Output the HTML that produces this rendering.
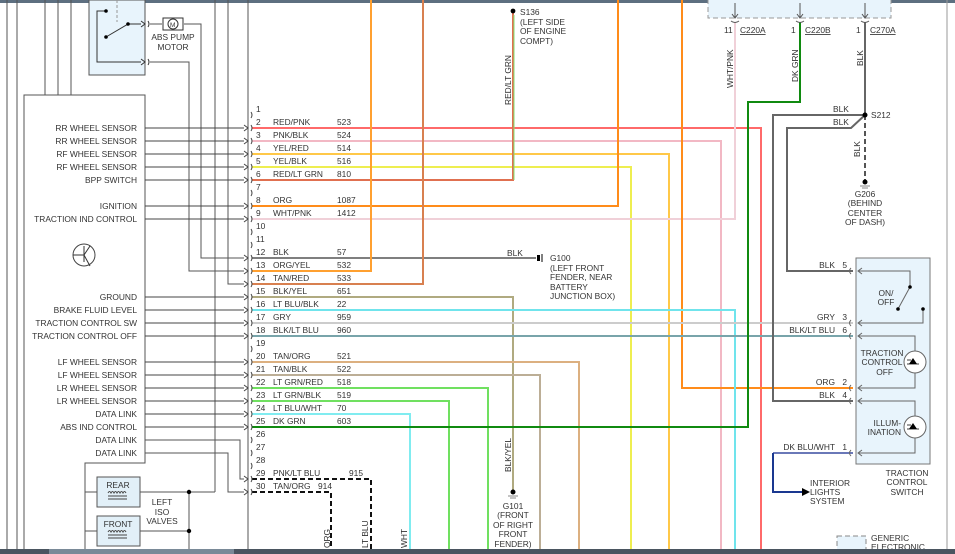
<!DOCTYPE html>
<html><head><meta charset="utf-8"><style>
html,body{margin:0;padding:0;background:#fff;}
svg{display:block;font-family:"Liberation Sans",sans-serif;font-size:8.4px;fill:#333;}
</style></head><body>
<svg width="955" height="554" viewBox="0 0 955 554" xmlns="http://www.w3.org/2000/svg">
<rect x="0" y="0" width="955" height="554" fill="#fff"/>
<rect x="0" y="0" width="955" height="3" fill="#5d6f80"/>
<line x1="947" y1="0" x2="947" y2="549" stroke="#999" stroke-width="1"/>
<g fill="none" stroke="#555" stroke-width="1">
<line x1="7" y1="0" x2="7" y2="549"/>
<line x1="17" y1="0" x2="17" y2="549"/>
<line x1="45" y1="0" x2="45" y2="95"/>
<line x1="58" y1="0" x2="58" y2="95"/>
<line x1="71" y1="0" x2="71" y2="95"/>
<line x1="248" y1="0" x2="248" y2="549"/>
<line x1="215" y1="0" x2="215" y2="492"/>
<polyline points="228,0 228,284 244,284"/>
<polyline points="150,24 162,24"/>
<polyline points="184,24 201,24 201,258 244,258"/>
<polyline points="150,62 189,62 189,271 244,271"/>
<polyline points="145,440 240,440 240,479 244,479"/>
<polyline points="145,453 228,453 228,492 244,492"/>
<polyline points="85,492 215,492"/>
<polyline points="85,531 189,531"/>
<line x1="189" y1="492" x2="189" y2="549"/>
</g>
<circle cx="189" cy="492" r="2.2" fill="#000"/>
<circle cx="189" cy="531" r="2.2" fill="#000"/>
<rect x="89" y="0" width="56" height="75" fill="#e8f4fc" stroke="#555"/>
<g stroke="#333" fill="none"><polyline points="141,62 97,62 97,11 106,11"/><line x1="117" y1="0" x2="117" y2="22" stroke-dasharray="3,2" stroke="#999"/><line x1="106" y1="37" x2="128" y2="24"/><line x1="128" y1="24" x2="141" y2="24"/>
<path d="M141,21 l4,3 -4,3 M141,59 l4,3 -4,3"/>
<path d="M148,21 q2,3 0,6 M148,59 q2,3 0,6"/></g>
<circle cx="106" cy="11" r="1.8" fill="#000"/><circle cx="106" cy="37" r="1.8" fill="#000"/><circle cx="128" cy="24" r="1.8" fill="#000"/>
<rect x="163" y="18" width="20" height="12" fill="#fff" stroke="#333"/>
<circle cx="173" cy="24" r="5" fill="#fff" stroke="#333"/>
<text x="170" y="27" font-size="6.5">M</text>
<text x="173" y="40" text-anchor="middle">ABS PUMP</text>
<text x="173" y="50" text-anchor="middle">MOTOR</text>
<path d="M24,549 V95 H145 V463 H85 V549" fill="none" stroke="#555"/>
<circle cx="84" cy="255" r="11" fill="#fff" stroke="#444"/>
<g stroke="#333" fill="none"><line x1="73" y1="255" x2="84" y2="255"/><line x1="84" y1="255" x2="90" y2="246"/><line x1="84" y1="255" x2="90" y2="266"/><line x1="84" y1="246" x2="84" y2="262"/></g>
<g text-anchor="end">
<text x="137" y="131">RR WHEEL SENSOR</text>
<text x="137" y="144">RR WHEEL SENSOR</text>
<text x="137" y="157">RF WHEEL SENSOR</text>
<text x="137" y="170">RF WHEEL SENSOR</text>
<text x="137" y="183">BPP SWITCH</text>
<text x="137" y="209">IGNITION</text>
<text x="137" y="222">TRACTION IND CONTROL</text>
<text x="137" y="300">GROUND</text>
<text x="137" y="313">BRAKE FLUID LEVEL</text>
<text x="137" y="326">TRACTION CONTROL SW</text>
<text x="137" y="339">TRACTION CONTROL OFF</text>
<text x="137" y="365">LF WHEEL SENSOR</text>
<text x="137" y="378">LF WHEEL SENSOR</text>
<text x="137" y="391">LR WHEEL SENSOR</text>
<text x="137" y="404">LR WHEEL SENSOR</text>
<text x="137" y="417">DATA LINK</text>
<text x="137" y="430">ABS IND CONTROL</text>
<text x="137" y="443">DATA LINK</text>
<text x="137" y="456">DATA LINK</text>
</g>
<g stroke="#444" fill="none">
<path d="M145,128H244M145,141H244M145,154H244M145,167H244M145,180H244M145,206H244M145,219H244M145,297H244M145,310H244M145,323H244M145,336H244M145,362H244M145,375H244M145,388H244M145,401H244M145,414H244M145,427H244"/>
</g>
<rect x="97" y="477" width="43" height="30" fill="#e2f0f8" stroke="#555"/>
<rect x="97" y="516" width="43" height="30" fill="#e2f0f8" stroke="#555"/>
<text x="118" y="488" text-anchor="middle">REAR</text>
<text x="118" y="527" text-anchor="middle">FRONT</text>
<g stroke="#444" fill="none"><path d="M108,493 q1.5,-3 3,0 q1.5,-3 3,0 q1.5,-3 3,0 q1.5,-3 3,0 q1.5,-3 3,0 q1.5,-3 3,0 M108,496H127M108,499H127"/>
<path d="M108,532 q1.5,-3 3,0 q1.5,-3 3,0 q1.5,-3 3,0 q1.5,-3 3,0 q1.5,-3 3,0 q1.5,-3 3,0 M108,535H127M108,538H127"/></g>
<text x="162" y="505" text-anchor="middle">LEFT</text>
<text x="162" y="515" text-anchor="middle">ISO</text>
<text x="162" y="524" text-anchor="middle">VALVES</text>
<g fill="none" stroke-width="2">
<polyline points="252,128 761,128 761,549" stroke="#ff6a6a"/>
<polyline points="252,141 721,141 721,549" stroke="#f2b8c4"/>
<polyline points="252,154 669,154 669,549" stroke="#ffc848"/>
<polyline points="252,167 631,167 631,549" stroke="#eeee50"/>
<polyline points="252,180 513,180 513,11" stroke="#e07050"/>
<polyline points="514,180 514,15" stroke="#80e070" stroke-width="1"/>
<polyline points="252,206 618,206 618,0" stroke="#ff8c1a"/>
<polyline points="252,219 735,219 735,22" stroke="#f0d0d8"/>
<polyline points="682,0 682,388 853,388" stroke="#ff8c1a"/>
<polyline points="252,258 536,258" stroke="#555" stroke-width="1.5"/>
<polyline points="252,271 371,271 371,0" stroke="#ffa030"/>
<polyline points="252,284 423,284 423,0" stroke="#d88050"/>
<polyline points="252,297 513,297 513,490" stroke="#b0aa80"/>
<polyline points="252,310 735,310 735,549" stroke="#70e4ec"/>
<polyline points="252,323 853,323" stroke="#cccccc"/>
<polyline points="252,336 853,336" stroke="#78a4aa"/>
<polyline points="252,362 579,362 579,549" stroke="#dcb080"/>
<polyline points="252,375 540,375 540,549" stroke="#bcae96"/>
<polyline points="252,388 488,388 488,549" stroke="#70e060"/>
<polyline points="252,401 449,401 449,549" stroke="#70e060"/>
<polyline points="252,414 410,414 410,549" stroke="#80ecf0"/>
<polyline points="252,427 748,427 748,102 800,102 800,22" stroke="#108a10"/>
<polyline points="252,479 371,479 371,549" stroke="#111" stroke-dasharray="5,3"/>
<polyline points="252,492 331,492 331,549" stroke="#111" stroke-dasharray="5,3"/>
<polyline points="865,22 865,115" stroke="#666"/>
<polyline points="865,115 865,182" stroke="#555" stroke-dasharray="5,3"/>
<polyline points="865,115 773,115 773,401 853,401" stroke="#666"/>
<polyline points="865,115 851,128 787,128 787,271 853,271" stroke="#666"/>
<polyline points="853,453 773,453" stroke="#6a78b8"/>
<polyline points="773,453 773,492 802,492" stroke="#1a3890"/>
</g>
<path d="M802,488 L810,492 802,496Z" fill="#000"/>
<g fill="none" stroke="#444" stroke-width="1">
<path d="M244,125 l4,3 -4,3 M244,138 l4,3 -4,3 M244,151 l4,3 -4,3 M244,164 l4,3 -4,3 M244,177 l4,3 -4,3 M244,203 l4,3 -4,3 M244,216 l4,3 -4,3 M244,255 l4,3 -4,3 M244,268 l4,3 -4,3 M244,281 l4,3 -4,3 M244,294 l4,3 -4,3 M244,307 l4,3 -4,3 M244,320 l4,3 -4,3 M244,333 l4,3 -4,3 M244,359 l4,3 -4,3 M244,372 l4,3 -4,3 M244,385 l4,3 -4,3 M244,398 l4,3 -4,3 M244,411 l4,3 -4,3 M244,424 l4,3 -4,3 M244,476 l4,3 -4,3 M244,489 l4,3 -4,3"/>
<path d="M251,112q2,3 0,6M251,125q2,3 0,6M251,138q2,3 0,6M251,151q2,3 0,6M251,164q2,3 0,6M251,177q2,3 0,6M251,190q2,3 0,6M251,203q2,3 0,6M251,216q2,3 0,6M251,229q2,3 0,6M251,242q2,3 0,6M251,255q2,3 0,6M251,268q2,3 0,6M251,281q2,3 0,6M251,294q2,3 0,6M251,307q2,3 0,6M251,320q2,3 0,6M251,333q2,3 0,6M251,346q2,3 0,6M251,359q2,3 0,6M251,372q2,3 0,6M251,385q2,3 0,6M251,398q2,3 0,6M251,411q2,3 0,6M251,424q2,3 0,6M251,437q2,3 0,6M251,450q2,3 0,6M251,463q2,3 0,6M251,476q2,3 0,6M251,489q2,3 0,6"/>
</g>
<g>
<text x="256" y="112">1</text>
<text x="256" y="125">2</text><text x="273" y="125">RED/PNK</text><text x="337" y="125">523</text>
<text x="256" y="138">3</text><text x="273" y="138">PNK/BLK</text><text x="337" y="138">524</text>
<text x="256" y="151">4</text><text x="273" y="151">YEL/RED</text><text x="337" y="151">514</text>
<text x="256" y="164">5</text><text x="273" y="164">YEL/BLK</text><text x="337" y="164">516</text>
<text x="256" y="177">6</text><text x="273" y="177">RED/LT GRN</text><text x="337" y="177">810</text>
<text x="256" y="190">7</text>
<text x="256" y="203">8</text><text x="273" y="203">ORG</text><text x="337" y="203">1087</text>
<text x="256" y="216">9</text><text x="273" y="216">WHT/PNK</text><text x="337" y="216">1412</text>
<text x="256" y="229">10</text>
<text x="256" y="242">11</text>
<text x="256" y="255">12</text><text x="273" y="255">BLK</text><text x="337" y="255">57</text>
<text x="256" y="268">13</text><text x="273" y="268">ORG/YEL</text><text x="337" y="268">532</text>
<text x="256" y="281">14</text><text x="273" y="281">TAN/RED</text><text x="337" y="281">533</text>
<text x="256" y="294">15</text><text x="273" y="294">BLK/YEL</text><text x="337" y="294">651</text>
<text x="256" y="307">16</text><text x="273" y="307">LT BLU/BLK</text><text x="337" y="307">22</text>
<text x="256" y="320">17</text><text x="273" y="320">GRY</text><text x="337" y="320">959</text>
<text x="256" y="333">18</text><text x="273" y="333">BLK/LT BLU</text><text x="337" y="333">960</text>
<text x="256" y="346">19</text>
<text x="256" y="359">20</text><text x="273" y="359">TAN/ORG</text><text x="337" y="359">521</text>
<text x="256" y="372">21</text><text x="273" y="372">TAN/BLK</text><text x="337" y="372">522</text>
<text x="256" y="385">22</text><text x="273" y="385">LT GRN/RED</text><text x="337" y="385">518</text>
<text x="256" y="398">23</text><text x="273" y="398">LT GRN/BLK</text><text x="337" y="398">519</text>
<text x="256" y="411">24</text><text x="273" y="411">LT BLU/WHT</text><text x="337" y="411">70</text>
<text x="256" y="424">25</text><text x="273" y="424">DK GRN</text><text x="337" y="424">603</text>
<text x="256" y="437">26</text>
<text x="256" y="450">27</text>
<text x="256" y="463">28</text>
<text x="256" y="476">29</text><text x="273" y="476">PNK/LT BLU</text><text x="349" y="476">915</text>
<text x="256" y="489">30</text><text x="273" y="489">TAN/ORG</text><text x="318" y="489">914</text>
</g>
<circle cx="513" cy="11" r="2.4" fill="#000"/>
<text x="520" y="15">S136</text>
<text x="520" y="25">(LEFT SIDE</text>
<text x="520" y="34">OF ENGINE</text>
<text x="520" y="44">COMPT)</text>
<text transform="translate(511,80) rotate(-90)" text-anchor="middle">RED/LT GRN</text>
<text x="507" y="256">BLK</text>
<rect x="537" y="255" width="3" height="6" fill="#000"/><line x1="542" y1="254" x2="542" y2="262" stroke="#000"/>
<text x="550" y="261">G100</text>
<text x="550" y="271">(LEFT FRONT</text>
<text x="550" y="280">FENDER, NEAR</text>
<text x="550" y="290">BATTERY</text>
<text x="550" y="299">JUNCTION BOX)</text>
<text transform="translate(511,455) rotate(-90)" text-anchor="middle">BLK/YEL</text>
<circle cx="513" cy="492" r="2.5" fill="#000"/><path d="M508,496H518M510,498H516" stroke="#888"/>
<text x="513" y="509" text-anchor="middle">G101</text>
<text x="513" y="518" text-anchor="middle">(FRONT</text>
<text x="513" y="528" text-anchor="middle">OF RIGHT</text>
<text x="513" y="537" text-anchor="middle">FRONT</text>
<text x="513" y="547" text-anchor="middle">FENDER)</text>
<text transform="translate(330,548) rotate(-90)">ORG</text>
<text transform="translate(368,548) rotate(-90)">LT BLU</text>
<text transform="translate(407,548) rotate(-90)">WHT</text>
<rect x="708" y="-2" width="183" height="20" fill="#e8f4fc" stroke="#999" stroke-dasharray="5,3"/>
<g stroke="#555" fill="none"><path d="M735,3V18M732,14l3,4 3,-4M800,3V18M797,14l3,4 3,-4M865,3V18M862,14l3,4 3,-4"/>
<path d="M731,21q4,3 8,0M796,21q4,3 8,0M861,21q4,3 8,0"/></g>
<text x="724" y="33">11</text><text x="740" y="33" text-decoration="underline">C220A</text>
<text x="791" y="33">1</text><text x="805" y="33" text-decoration="underline">C220B</text>
<text x="856" y="33">1</text><text x="870" y="33" text-decoration="underline">C270A</text>
<text transform="translate(733,88) rotate(-90)">WHT/PNK</text>
<text transform="translate(798,82) rotate(-90)">DK GRN</text>
<text transform="translate(863,66) rotate(-90)">BLK</text>
<text transform="translate(860,157) rotate(-90)">BLK</text>
<text x="833" y="112">BLK</text>
<text x="833" y="125">BLK</text>
<circle cx="865" cy="115" r="2.5" fill="#000"/>
<text x="871" y="118">S212</text>
<circle cx="865" cy="182" r="2.5" fill="#000"/><path d="M860,186H870M862,188H868" stroke="#888"/>
<text x="865" y="197" text-anchor="middle">G206</text>
<text x="865" y="206" text-anchor="middle">(BEHIND</text>
<text x="865" y="216" text-anchor="middle">CENTER</text>
<text x="865" y="225" text-anchor="middle">OF DASH)</text>
<rect x="856" y="258" width="74" height="206" fill="#e8f4fc" stroke="#777"/>
<g stroke="#666" fill="none">
<polyline points="858,271 910,271 910,287"/>
<polyline points="858,323 923,323 923,309"/>
<line x1="910" y1="287" x2="898" y2="309"/>
<polyline points="858,336 915,336 915,388 858,388"/>
<polyline points="858,401 915,401 915,453 858,453"/>
<circle cx="915" cy="362" r="11" fill="#fff"/><circle cx="915" cy="427" r="11" fill="#fff"/>
<path d="M851,268q-3,3 0,6M851,320q-3,3 0,6M851,333q-3,3 0,6M851,385q-3,3 0,6M851,398q-3,3 0,6M851,450q-3,3 0,6"/>
<path d="M862,268l-4,3 4,3M862,320l-4,3 4,3M862,333l-4,3 4,3M862,385l-4,3 4,3M862,398l-4,3 4,3M862,450l-4,3 4,3"/>
</g>
<circle cx="910" cy="287" r="1.8" fill="#000"/><circle cx="898" cy="309" r="1.8" fill="#000"/><circle cx="923" cy="309" r="1.8" fill="#000"/>
<path d="M913,358l4,6h-8zM913,423l4,6h-8z" fill="#000"/>
<path d="M907,360h4M907,364h4M907,425h4M907,429h4M909,364h10M909,429h10" stroke="#000" stroke-width="0.8"/>
<text x="886" y="296" text-anchor="middle">ON/</text>
<text x="886" y="305" text-anchor="middle">OFF</text>
<text x="882" y="356" text-anchor="middle">TRACTION</text>
<text x="882" y="365" text-anchor="middle">CONTROL</text>
<text x="893" y="375" text-anchor="end">OFF</text>
<text x="901" y="426" text-anchor="end">ILLUM-</text>
<text x="901" y="435" text-anchor="end">INATION</text>
<g text-anchor="end">
<text x="835" y="268">BLK</text><text x="847" y="268">5</text>
<text x="835" y="320">GRY</text><text x="847" y="320">3</text>
<text x="835" y="333">BLK/LT BLU</text><text x="847" y="333">6</text>
<text x="835" y="385">ORG</text><text x="847" y="385">2</text>
<text x="835" y="398">BLK</text><text x="847" y="398">4</text>
<text x="835" y="450">DK BLU/WHT</text><text x="847" y="450">1</text>
</g>
<text x="907" y="476" text-anchor="middle">TRACTION</text>
<text x="907" y="485" text-anchor="middle">CONTROL</text>
<text x="907" y="495" text-anchor="middle">SWITCH</text>
<text x="810" y="486">INTERIOR</text>
<text x="810" y="495">LIGHTS</text>
<text x="810" y="504">SYSTEM</text>
<rect x="837" y="536" width="29" height="20" fill="#e8f4fc" stroke="#888" stroke-dasharray="5,3"/>
<text x="871" y="541">GENERIC</text>
<text x="871" y="550">ELECTRONIC</text>
<rect x="0" y="549" width="955" height="5" fill="#4a5560"/>
<rect x="49" y="549" width="185" height="5" fill="#7a8a98"/>
</svg>
</body></html>
